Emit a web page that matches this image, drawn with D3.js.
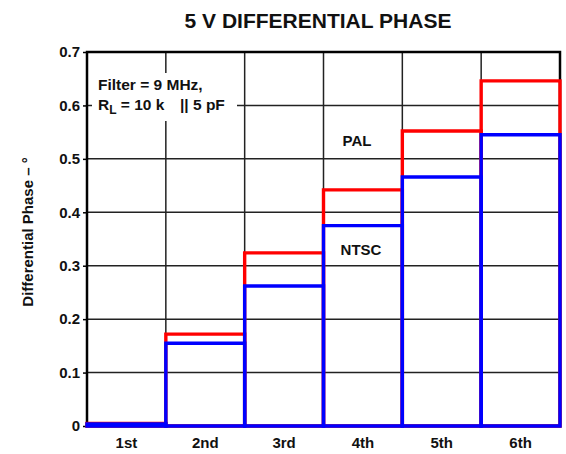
<!DOCTYPE html>
<html><head><meta charset="utf-8">
<script src="https://cdn.jsdelivr.net/npm/d3@7"></script>
<style>
body{margin:0;background:#fff;}
text{font-family:"Liberation Sans",Arial,sans-serif;font-weight:bold;fill:#111;}
</style></head>
<body><svg id="c" width="566" height="454"></svg>
<script>
const categories = ["1st","2nd","3rd","4th","5th","6th"];
const palValues  = [0.005,0.172,0.324,0.442,0.552,0.646];
const ntscValues = [0.004,0.155,0.262,0.375,0.466,0.545];
const yTicks = [0,0.1,0.2,0.3,0.4,0.5,0.6,0.7];

const svg = d3.select("#c");
const L=87,R=560,T=52,B=426;
const x = d3.scaleBand().domain(categories).range([L,R]).padding(0);
const y = d3.scaleLinear().domain([0,0.7]).range([B,T]);

// grid
const g = svg.append("g");
g.selectAll("line.h").data(yTicks.slice(1)).join("line")
  .attr("x1",L).attr("x2",R).attr("y1",d=>y(d)).attr("y2",d=>y(d))
  .attr("stroke","#222").attr("stroke-width",1.5);
g.selectAll("line.v").data(categories.slice(1)).join("line")
  .attr("x1",d=>x(d)).attr("x2",d=>x(d)).attr("y1",T).attr("y2",B)
  .attr("stroke","#222").attr("stroke-width",1.5);
// frame
svg.append("rect").attr("x",L).attr("y",T).attr("width",R-L).attr("height",B-T)
  .attr("fill","none").attr("stroke","#000").attr("stroke-width",2.5);

// y axis
const ya = svg.append("g").attr("transform",`translate(${L},0)`)
  .call(d3.axisLeft(y).tickValues(yTicks).tickSize(4).tickPadding(3)
    .tickFormat(d=>d===0?"0":d3.format(".1f")(d)));
ya.select(".domain").remove();
ya.selectAll(".tick line").attr("stroke","#000").attr("stroke-width",1.5);
ya.selectAll(".tick text").style("font-size","15px").style("font-family","Liberation Sans, Arial").style("font-weight","bold").attr("fill","#111");

// x axis labels
const xa = svg.append("g").attr("transform",`translate(0,${B})`)
  .call(d3.axisBottom(x).tickSize(0).tickPadding(11));
xa.select(".domain").remove();
xa.selectAll(".tick text").style("font-size","15px").style("font-family","Liberation Sans, Arial").style("font-weight","bold").attr("fill","#111");

// step bars
function drawSeries(vals,color){
  svg.append("g").selectAll("path").data(categories).join("path")
    .attr("d",(c,i)=>`M${x(c)},${y(0)}V${y(vals[i])}H${x(c)+x.bandwidth()}V${y(0)}Z`)
    .attr("fill","none").attr("stroke",color).attr("stroke-width",3.4);
}
drawSeries(palValues,"#ff0000");
drawSeries(ntscValues,"#0000ff");

// legend box
svg.append("rect").attr("x",92).attr("y",73).attr("width",145).attr("height",48).attr("fill","#fff");
svg.append("text").attr("x",98).attr("y",90).style("font-size","15.5px").text("Filter = 9 MHz,");
const t2 = svg.append("text").attr("x",98).attr("y",110).style("font-size","15.5px");
t2.append("tspan").text("R");
t2.append("tspan").attr("dy",4).style("font-size","12px").text("L");
t2.append("tspan").attr("dy",-4).text(" = 10 k");
t2.append("tspan").attr("x",180).text("|| 5 pF");

svg.append("text").attr("x",357).attr("y",146).attr("text-anchor","middle").style("font-size","15px").text("PAL");
svg.append("text").attr("x",361).attr("y",255).attr("text-anchor","middle").style("font-size","15px").text("NTSC");

// title
svg.append("text").attr("x",318).attr("y",28).attr("text-anchor","middle").style("font-size","21px").text("5 V DIFFERENTIAL PHASE");
// y label
svg.append("text").attr("transform","translate(33,232) rotate(-90)").attr("text-anchor","middle").style("font-size","15px").text("Differential Phase – °");
</script></body></html>
